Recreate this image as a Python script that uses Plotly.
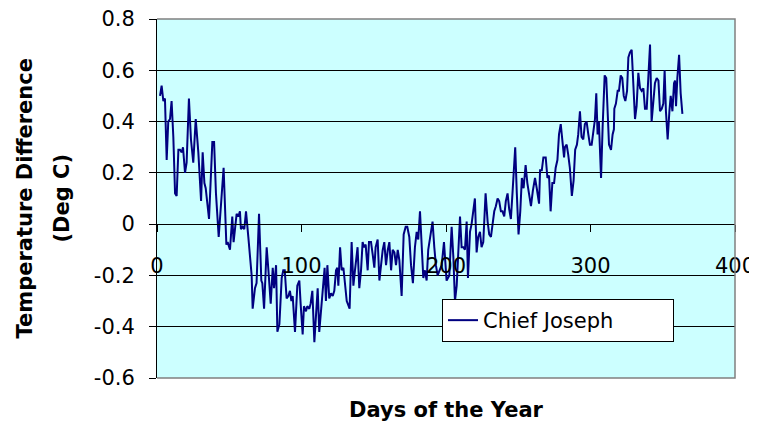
import plotly.graph_objects as go

# ---- data ----
days = [
    2.1, 3.2, 4.4, 5.5, 6.7, 7.8, 9.0, 10.1, 11.3, 12.5, 13.6, 14.8, 15.9, 17.1, 18.0, 19.4,
    20.5, 22.1, 23.5, 25.1, 26.8, 28.6, 30.5, 31.6, 32.8, 33.7, 36.0, 37.4, 38.3, 39.5, 40.8,
    42.7, 44.1, 46.1, 48.0, 48.9, 50.5, 52.1, 53.0, 55.1, 56.3, 57.4, 58.1, 59.3, 60.4, 61.6,
    63.2, 65.5,
    66.2, 67.8, 68.9, 70.6, 72.2, 72.9, 74.1, 75.9, 77.1, 78.7, 80.1, 81.0, 82.4, 83.3, 84.7,
    86.3, 87.4, 88.4, 89.7, 90.9, 92.0, 93.0, 93.9, 95.5, 97.1, 98.5, 99.4, 100.8, 101.7, 103.1,
    104.0, 105.4, 106.3, 107.5, 108.9, 110.0, 111.2, 112.3, 113.5, 114.6, 116.0, 116.9, 117.9,
    119.2, 120.4, 121.6, 122.7, 123.9, 124.8, 125.5, 126.7, 127.8, 129.0,
    131.3, 133.3, 134.7, 135.9, 137.0, 138.1, 138.8, 140.0, 141.2, 142.3, 143.2, 144.4, 145.8,
    146.7, 148.1, 149.3, 150.4, 151.3, 152.7, 153.9, 155.0, 156.2, 157.3, 158.5, 159.7, 160.8,
    162.0, 163.1, 164.3, 165.4, 166.6, 167.7, 169.3, 170.7, 172.1, 173.2, 174.6, 175.8, 177.1,
    178.5, 179.7, 180.8, 182.0, 183.1, 184.3, 185.4, 186.6, 187.7, 189.6, 190.7, 191.9, 193.0,
    194.2,
    195.8, 197.0, 198.6, 200.4, 202.3, 203.9, 205.1, 206.2, 207.4, 208.6, 209.7, 210.8, 212.0,
    213.1, 214.3, 215.2, 216.6, 217.7, 218.9, 220.0, 221.2, 222.3, 223.5, 224.6, 225.8, 227.4,
    228.8, 229.9, 231.1, 232.2, 233.4, 234.5, 235.7, 236.8, 238.0, 239.1, 240.3, 241.4, 242.6,
    243.7, 244.9, 246.0, 247.0, 247.9, 249.0, 250.2, 251.4, 252.5, 253.7, 255.1, 256.3, 257.6,
    258.8, 260.1,
    261.6, 262.8, 264.4, 265.1, 266.3, 267.4, 269.0, 270.2, 271.3, 272.4, 273.6, 274.8, 275.9,
    277.1, 278.2, 279.4, 280.5, 281.7, 282.3, 283.5, 284.6, 285.7, 287.1, 288.3, 289.4, 290.6,
    291.5, 292.7, 293.8, 295.0, 296.1, 297.3, 298.5, 299.6, 300.8, 301.9, 303.1, 304.0, 304.9,
    305.8, 307.3, 308.4, 309.8, 310.9, 311.9, 312.8, 314.2, 315.3, 316.2, 316.5, 317.6, 318.8,
    319.7, 320.9, 322.0, 323.0, 324.1, 325.3, 326.2,
    327.3, 328.5, 329.6, 330.8, 331.9, 333.1, 334.3, 335.4, 336.6, 337.7, 338.9, 340.0, 341.2,
    342.3, 343.5, 344.6, 345.8, 347.0, 348.1, 349.3, 350.4, 351.3, 352.2, 353.4, 354.6, 355.5,
    356.7, 357.8, 358.5, 359.2, 360.1, 361.3, 362.4, 363.6,
]
temp_diff = [
    0.50, 0.54, 0.48, 0.49, 0.25, 0.40, 0.41, 0.48, 0.34, 0.12, 0.11, 0.29, 0.29, 0.28, 0.30, 0.20,
    0.24, 0.49, 0.33, 0.24, 0.41, 0.28, 0.09, 0.28, 0.16, 0.14, 0.02, 0.24, 0.32, 0.32, 0.12,
    -0.05, 0.05, 0.22, -0.08, -0.07, -0.10, 0.03, -0.07, 0.04, 0.03, 0.05, -0.02, -0.01, -0.02, 0.05,
    -0.05, -0.20,
    -0.33, -0.25, -0.23, 0.04, -0.22, -0.23, -0.33, -0.09, -0.18, -0.31, -0.17, -0.25, -0.16, -0.42, -0.39,
    -0.21, -0.18, -0.18, -0.29, -0.28, -0.26, -0.30, -0.28, -0.42, -0.24, -0.22, -0.31, -0.43, -0.32, -0.34,
    -0.32, -0.33, -0.31, -0.26, -0.46, -0.34, -0.25, -0.42, -0.34, -0.24, -0.17, -0.30, -0.16,
    -0.29, -0.27, -0.28, -0.26, -0.18, -0.17, -0.24, -0.09, -0.18, -0.17,
    -0.30, -0.33, -0.07, -0.24, -0.18, -0.13, -0.09, -0.25, -0.18, -0.07, -0.09, -0.08, -0.18,
    -0.07, -0.07, -0.12, -0.17, -0.09, -0.06, -0.22, -0.16, -0.10, -0.07, -0.16, -0.10, -0.07,
    -0.18, -0.10, -0.11, -0.16, -0.10, -0.14, -0.28, -0.04, -0.01, -0.01, -0.05, -0.16, -0.23,
    -0.09, -0.03, -0.06, 0.05, -0.10, -0.21, -0.18, -0.22, -0.10, -0.04, 0.01, -0.09, -0.16,
    -0.20,
    -0.18, -0.16, -0.07, -0.22, -0.20, -0.01, -0.13, -0.30, -0.24, -0.10, 0.03, -0.09, -0.09,
    -0.10, 0.01, -0.21, -0.03, 0.00, 0.05, 0.10, -0.11, -0.05, -0.03, -0.09, -0.07, 0.12,
    0.01, -0.04, -0.05, 0.01, 0.05, 0.07, 0.10, 0.09, 0.05, 0.05, 0.03, 0.09, 0.12,
    0.06, 0.02, 0.12, 0.21, 0.30, 0.12, -0.04, 0.05, 0.18, 0.14, 0.23, 0.16, 0.12,
    0.07, 0.13,
    0.18, 0.14, 0.08, 0.21, 0.21, 0.26, 0.26, 0.18, 0.19, 0.05, 0.16, 0.16, 0.22,
    0.25, 0.35, 0.39, 0.31, 0.26, 0.30, 0.31, 0.27, 0.22, 0.11, 0.17, 0.29, 0.31,
    0.35, 0.44, 0.34, 0.33, 0.39, 0.40, 0.35, 0.31, 0.31, 0.37, 0.41, 0.51, 0.35,
    0.40, 0.18, 0.38, 0.58, 0.57, 0.46, 0.31, 0.29, 0.35, 0.37, 0.45, 0.47, 0.52,
    0.52, 0.58, 0.57, 0.50, 0.48, 0.52, 0.65,
    0.67, 0.68, 0.57, 0.41, 0.46, 0.59, 0.53, 0.52, 0.53, 0.45, 0.45, 0.59, 0.70,
    0.40, 0.48, 0.55, 0.57, 0.56, 0.44, 0.45, 0.47, 0.60, 0.44, 0.33, 0.44, 0.50,
    0.44, 0.55, 0.56, 0.46, 0.57, 0.66, 0.51, 0.43,
]
series_name = "Chief Joseph"
x_tick_vals = [0, 100, 200, 300, 400]
x_tick_text = ["0", "100", "200", "300", "400"]
y_tick_vals = [-0.6, -0.4, -0.2, 0, 0.2, 0.4, 0.6, 0.8]
y_tick_text = ["-0.6", "-0.4", "-0.2", "0", "0.2", "0.4", "0.6", "0.8"]
x_title = "Days of the Year"
y_title_lines = ["Temperature Difference", "(Deg C)"]

FONT = "DejaVu Sans"
# the page body has an 8px default margin, so the figure is drawn 8px in
OFF = 8
PL, PT, PW, PH = 157, 19, 578, 359   # target plot area in window pixels

fig = go.Figure()
fig.add_trace(go.Scatter(
    x=days, y=temp_diff, mode="lines", name=series_name,
    line=dict(color="#000080", width=2),
))

fig.update_layout(
    width=757 - OFF, height=427 - OFF,
    margin=dict(l=PL - OFF, r=22, t=PT - OFF, b=49, autoexpand=False),
    paper_bgcolor="white",
    plot_bgcolor="#CCFFFF",
    font=dict(family=FONT, size=21, color="black"),
    showlegend=True,
    legend=dict(
        orientation="h",
        x=(442 - PL) / PW, y=(PT + PH - 299) / PH, xanchor="left", yanchor="top",
        bgcolor="white", bordercolor="black", borderwidth=1,
        font=dict(family=FONT, size=21, color="black"),
        entrywidth=185,
    ),
    xaxis=dict(
        range=[0, 400], tickvals=x_tick_vals, ticktext=x_tick_text,
        anchor="free", position=(0 - (-0.6)) / 1.4,
        showline=True, linecolor="black", linewidth=1,
        ticks="outside", ticklen=7, tickcolor="black",
        showgrid=False, zeroline=False, automargin=False,
        ticklabelstandoff=16, ticklabeloverflow="allow",
        tickfont=dict(family=FONT, size=21),
    ),
    yaxis=dict(
        range=[-0.6, 0.8], tickvals=y_tick_vals, ticktext=y_tick_text,
        showline=True, linecolor="black", linewidth=1,
        ticks="outside", ticklen=7, tickcolor="black",
        showgrid=True, gridcolor="black", gridwidth=1,
        zeroline=False, automargin=False,
        ticklabelstandoff=10, ticklabeloverflow="allow",
        tickfont=dict(family=FONT, size=21),
    ),
    shapes=[dict(
        type="path", xref="paper", yref="paper",
        path="M 0,1 L 1,1 L 1,0 L 0,0",
        line=dict(color="#808080", width=1.5), layer="above",
    )],
    annotations=[
        dict(text="<b>%s</b>" % x_title, xref="paper", yref="paper",
             x=0.5, y=-(410 - (PT + PH)) / PH, xanchor="center", yanchor="middle",
             showarrow=False, font=dict(family=FONT, size=21)),
        dict(text="<b>%s</b>" % y_title_lines[0], xref="paper", yref="paper",
             x=(24 - PL) / PW, y=0.5, xanchor="center", yanchor="middle",
             textangle=-90, showarrow=False, font=dict(family=FONT, size=21)),
        dict(text="<b>%s</b>" % y_title_lines[1], xref="paper", yref="paper",
             x=(61 - PL) / PW, y=0.5, xanchor="center", yanchor="middle",
             textangle=-90, showarrow=False, font=dict(family=FONT, size=21)),
    ],
)

fig.write_html("out.html")
